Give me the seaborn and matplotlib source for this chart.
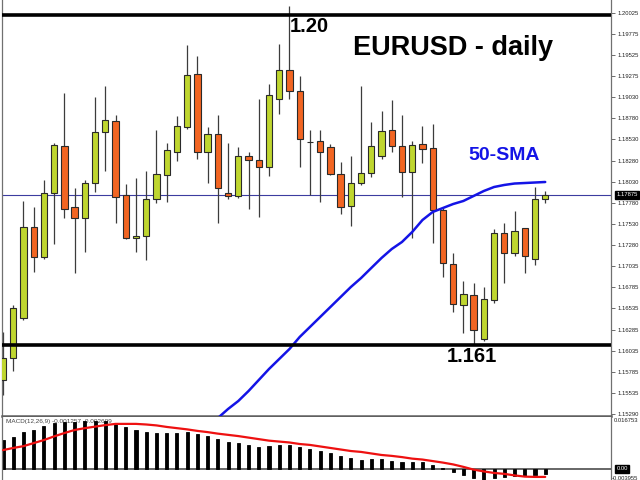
import numpy as np
import pandas as pd
import seaborn as sns
import matplotlib.pyplot as plt
import matplotlib.transforms as mtransforms

# daily EURUSD candles
opens = [1.15690, 1.15950, 1.16422, 1.17497, 1.17142, 1.17898, 1.18453, 1.17733, 1.17603, 1.18016,
         1.18619, 1.18748, 1.17875, 1.17367, 1.17390, 1.17827, 1.18111, 1.18382, 1.18678, 1.19303,
         1.18382, 1.18595, 1.17898, 1.17863, 1.18335, 1.18288, 1.18205, 1.19008, 1.19351, 1.19103,
         1.18500, 1.18512, 1.18441, 1.18123, 1.17745, 1.18016, 1.18134, 1.18335, 1.18642, 1.18453,
         1.18146, 1.18477, 1.18430, 1.17697, 1.17060, 1.16576, 1.16694, 1.16174, 1.16635, 1.17426,
         1.17190, 1.17485, 1.17119, 1.17827]
highs = [1.16257, 1.16576, 1.17804, 1.17733, 1.18052, 1.18489, 1.19079, 1.17957, 1.18052, 1.19032,
         1.19162, 1.18819, 1.18004, 1.18075, 1.18158, 1.18642, 1.18489, 1.18807, 1.19646, 1.19516,
         1.18678, 1.18819, 1.18489, 1.18441, 1.18382, 1.19008, 1.19185, 1.19658, 1.20106, 1.19280,
         1.18642, 1.18642, 1.18477, 1.18264, 1.18335, 1.19162, 1.18737, 1.18866, 1.18996, 1.18819,
         1.18512, 1.18689, 1.18713, 1.17721, 1.17190, 1.16859, 1.16835, 1.16788, 1.17473, 1.17544,
         1.17686, 1.17485, 1.17969, 1.17922]
lows = [1.15513, 1.15796, 1.16399, 1.16965, 1.17119, 1.17296, 1.17603, 1.16954, 1.17202, 1.17910,
        1.18158, 1.17544, 1.17355, 1.17202, 1.17107, 1.17780, 1.17792, 1.18276, 1.18654, 1.18300,
        1.18016, 1.17544, 1.17827, 1.17839, 1.17709, 1.17615, 1.18099, 1.18831, 1.19008, 1.18205,
        1.17875, 1.17792, 1.18111, 1.17650, 1.17508, 1.17993, 1.18087, 1.18300, 1.18382, 1.17851,
        1.17367, 1.18252, 1.17308, 1.16906, 1.16493, 1.16245, 1.16103, 1.16151, 1.16599, 1.16835,
        1.17154, 1.16954, 1.17048, 1.17780]
closes = [1.15950, 1.16540, 1.17497, 1.17142, 1.17898, 1.18465, 1.17709, 1.17603, 1.18016, 1.18619,
          1.18760, 1.17851, 1.17367, 1.17390, 1.17827, 1.18123, 1.18406, 1.18689, 1.19292, 1.18382,
          1.18595, 1.17957, 1.17863, 1.18335, 1.18288, 1.18205, 1.19055, 1.19351, 1.19103, 1.18536,
          1.18500, 1.18382, 1.18123, 1.17733, 1.18016, 1.18134, 1.18453, 1.18630, 1.18453, 1.18146,
          1.18465, 1.18418, 1.17697, 1.17072, 1.16587, 1.16706, 1.16281, 1.16647, 1.17426, 1.17190,
          1.17450, 1.17154, 1.17827, 1.17875]

# 50-SMA, visible from candle 22 onwards
sma_start = 21
sma50 = [1.15241, 1.15348, 1.15442, 1.15560, 1.15690, 1.15820, 1.15938, 1.16056, 1.16198, 1.16316,
         1.16434, 1.16552, 1.16670, 1.16788, 1.16894, 1.17013, 1.17131, 1.17237, 1.17320, 1.17438,
         1.17579, 1.17674, 1.17721, 1.17768, 1.17804, 1.17863, 1.17922, 1.17969, 1.17993, 1.18010,
         1.18016, 1.18022, 1.18028]

macd_hist = [0.0095, 0.0105, 0.0121, 0.0128, 0.0141, 0.0151, 0.0154, 0.0154, 0.0157, 0.0157,
             0.0157, 0.0148, 0.0138, 0.0128, 0.0121, 0.0118, 0.0118, 0.0118, 0.0121, 0.0115,
             0.0108, 0.0098, 0.0089, 0.0085, 0.0079, 0.0072, 0.0075, 0.0079, 0.0079, 0.0072,
             0.0066, 0.0059, 0.0052, 0.0043, 0.0036, 0.0030, 0.0033, 0.0033, 0.0026, 0.0023,
             0.0023, 0.0023, 0.0013, 0.0003, -0.0010, -0.0020, -0.0030, -0.0036, -0.0030, -0.0026,
             -0.0023, -0.0023, -0.0020, -0.0016]
macd_signal = [0.0062, 0.0069, 0.0075, 0.0085, 0.0095, 0.0107, 0.0118, 0.0128, 0.0134, 0.0139,
               0.0144, 0.0148, 0.0148, 0.0148, 0.0146, 0.0143, 0.0138, 0.0134, 0.0130, 0.0125,
               0.0121, 0.0116, 0.0112, 0.0108, 0.0103, 0.0098, 0.0093, 0.0090, 0.0087, 0.0082,
               0.0079, 0.0074, 0.0069, 0.0064, 0.0059, 0.0056, 0.0051, 0.0046, 0.0043, 0.0039,
               0.0034, 0.0031, 0.0026, 0.0021, 0.0015, 0.0007, -0.0002, -0.0008, -0.0013, -0.0016,
               -0.0021, -0.0025, -0.0026, -0.0026]

price_ticks = [1.20025, 1.19775, 1.19525, 1.19275, 1.19030, 1.18780, 1.18530, 1.18280, 1.18030,
               1.17780, 1.17530, 1.17280, 1.17035, 1.16785, 1.16535, 1.16285, 1.16035, 1.15785,
               1.15535, 1.15290]
levels = [1.2000, 1.1610]
level_labels = ["1.20", "1.161"]
last_price = 1.17875

BULL = "#bfd62f"
BEAR = "#f26522"
LABEL_FS = 4.2

sns.set_theme(style="white")
plt.rcParams['font.family'] = ['Liberation Sans', 'DejaVu Sans']

W, H = 640, 480
fig = plt.figure(figsize=(6.4, 4.8), dpi=100)


def box(x0, y0, x1, y1):
    # pixel box -> figure fraction
    return [x0 / W, 1 - y1 / H, (x1 - x0) / W, (y1 - y0) / H]


ax = fig.add_axes(box(2, 0, 611, 416))
ax2 = fig.add_axes(box(2, 417, 611, 480))

df = pd.DataFrame({"open": opens, "high": highs, "low": lows, "close": closes})
df["idx"] = np.arange(len(df))
body_lo = df[["open", "close"]].min(axis=1)
body_h = (df["close"] - df["open"]).abs()
colors = [BULL if c > o else (BEAR if c < o else "#222222") for o, c in zip(df.open, df.close)]

# candles
ax.vlines(df.idx, df.low, df.high, color="#3c3c3c", lw=0.9, zorder=2)
ax.bar(df.idx, body_h, bottom=body_lo, width=0.62, color=colors,
       edgecolor="#2a2a2a", linewidth=0.8, zorder=3)

# 50-SMA
sma = pd.DataFrame({"idx": np.arange(sma_start, sma_start + len(sma50)), "sma": sma50})
sns.lineplot(data=sma, x="idx", y="sma", ax=ax, color="#1414e6", lw=1.8, zorder=4)

for lv in levels:
    ax.axhline(lv, color="black", lw=2.6, zorder=5)
ax.axhline(last_price, color="#3c3ca0", lw=0.8, zorder=1)

ax.set_xlim(-0.098, 59.43)
ax.set_ylim(1.15265, 1.20177)
ax.set_xticks([])
ax.set_xlabel("")
ax.set_ylabel("")
ax.yaxis.tick_right()
ax.set_yticks(price_ticks)
ax.set_yticklabels([f"{t:.5f}" for t in price_ticks])
ax.tick_params(axis="y", right=True, length=3, width=0.6, color="#555555",
               labelsize=LABEL_FS, pad=1.5, labelcolor="#222222")
ax.spines["top"].set_visible(False)
ax.spines["bottom"].set_color("#606060")
ax.spines["bottom"].set_linewidth(1.8)
for s in ["left", "right"]:
    ax.spines[s].set_color("#707070")
    ax.spines[s].set_linewidth(0.9)

trans = mtransforms.blended_transform_factory(ax.transAxes, ax.transData)
ax.text(1.009, last_price, f"{last_price:.5f}", transform=trans, ha="left", va="center",
        fontsize=LABEL_FS, color="white", zorder=6,
        bbox=dict(boxstyle="square,pad=0.25", fc="black", ec="black"))

# MACD panel
mdf = pd.DataFrame({"idx": np.arange(len(macd_hist)), "hist": macd_hist, "signal": macd_signal})
sns.barplot(data=mdf, x="idx", y="hist", ax=ax2, color="black", saturation=1,
            width=0.3, native_scale=True, edgecolor="black", linewidth=0.6, zorder=2)
sns.lineplot(data=mdf, x="idx", y="signal", ax=ax2, color="#ee1111", lw=1.6, zorder=4)
ax2.axhline(0, color="#666666", lw=1.4, zorder=1)
ax2.set_xlim(-0.098, 59.43)
ax2.set_ylim(-0.00361, 0.01706)
ax2.set_xticks([])
ax2.set_yticks([])
ax2.set_xlabel("")
ax2.set_ylabel("")
for s in ["top", "bottom"]:
    ax2.spines[s].set_visible(False)
for s in ["left", "right"]:
    ax2.spines[s].set_color("#707070")
    ax2.spines[s].set_linewidth(0.9)

trans2 = mtransforms.blended_transform_factory(ax2.transAxes, ax2.transData)
ax2.text(1.004, 0.0160, "0.016753", transform=trans2, ha="left", va="center",
         fontsize=LABEL_FS, color="#222222")
ax2.text(1.009, 0.0, "0.00", transform=trans2, ha="left", va="center",
         fontsize=LABEL_FS, color="white",
         bbox=dict(boxstyle="square,pad=0.2", fc="black", ec="black"))
ax2.text(1.002, -0.0031, "-0.003955", transform=trans2, ha="left", va="center",
         fontsize=LABEL_FS, color="#222222")
ax2.text(0.006, 0.0155, "MACD(12,26,9) -0.001257 -0.002609", transform=trans2,
         ha="left", va="center", fontsize=4.6, color="#444444", zorder=1)

# annotations
fig.text(453 / W, 1 - 48 / H, "EURUSD - daily", ha="center", va="center",
         fontsize=19.5, fontweight="bold", color="black")
fig.text(504 / W, 1 - 156 / H, "50-SMA", ha="center", va="center",
         fontsize=14, fontweight="bold", color="#1414e6")
fig.text(309 / W, 1 - 27 / H, level_labels[0], ha="center", va="center",
         fontsize=14.5, fontweight="bold", color="black")
fig.text(472 / W, 1 - 357 / H, level_labels[1], ha="center", va="center",
         fontsize=14.5, fontweight="bold", color="black")

fig.savefig("out.png", dpi=100, facecolor="white")
